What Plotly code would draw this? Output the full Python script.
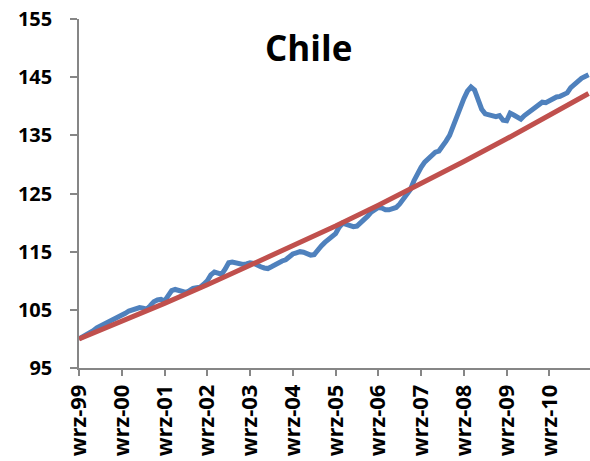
import plotly.graph_objects as go

# Polish month abbreviations; series runs monthly from wrz-99 (Sep 1999)
month_names = ["sty", "lut", "mar", "kwi", "maj", "cze", "lip", "sie", "wrz", "paź", "lis", "gru"]
start_year, start_month = 1999, 9
n_months = 144
categories = []
for i in range(n_months):
    m = (start_month - 1 + i) % 12
    y = start_year + (start_month - 1 + i) // 12
    categories.append(f"{month_names[m]}-{y % 100:02d}")

# Blue series: price index
cpi = [
    100.0, 100.3, 100.7, 101.1, 101.4, 101.9, 102.2, 102.6, 102.9, 103.2, 103.4, 103.6,
    103.9, 104.4, 104.8, 105.0, 105.3, 105.4, 105.3, 105.1, 105.7, 106.4, 106.7, 106.8,
    106.5, 107.6, 108.3, 108.5, 108.3, 108.0, 108.0, 108.3, 108.7, 108.8, 108.9, 109.4,
    110.0, 111.0, 111.5, 111.3, 111.1, 112.0, 113.1, 113.2, 113.0, 112.9, 112.8, 112.9,
    113.1, 113.0, 112.6, 112.4, 112.2, 112.1, 112.4, 112.8, 113.2, 113.4, 113.6, 114.2,
    114.6, 114.8, 115.0, 114.9, 114.6, 114.4, 114.5, 115.4, 116.0, 116.6, 117.1, 117.6,
    118.1, 119.2, 119.9, 119.7, 119.4, 119.3, 119.4, 119.9, 120.5, 121.1, 121.8, 122.3,
    122.6, 122.5, 122.2, 122.2, 122.4, 122.6, 123.2, 124.0, 124.7, 125.7, 127.2, 128.5,
    129.5, 130.4, 131.0, 131.6, 132.1, 132.3, 133.0, 134.0, 135.0, 136.7, 138.4, 139.8,
    141.3, 142.6, 143.3, 142.8, 141.0, 139.5, 138.7, 138.5, 138.3, 138.2, 138.4, 137.6,
    137.5, 138.8, 138.5, 138.1, 137.8, 138.4, 138.9, 139.3, 139.8, 140.2, 140.7, 140.6,
    141.0, 141.4, 141.6, 141.7, 141.9, 142.3, 143.2, 143.8, 144.3, 144.8, 145.1, 145.4,
]

# Red series: target path, read at yearly points
target_idx = [0, 12, 24, 36, 48, 60, 72, 84, 96, 108, 120, 132, 143]
target_vals = [100.0, 103.0, 106.1, 109.3, 112.6, 115.9, 119.4, 123.0, 126.7, 130.5, 134.4, 138.4, 142.2]

y_ticks = [95, 105, 115, 125, 135, 145, 155]
x_tick_idx = list(range(0, 144, 12))

fig = go.Figure()
fig.add_trace(go.Scatter(
    x=categories, y=cpi, mode="lines",
    line=dict(color="#4F81BD", width=5), showlegend=False, hoverinfo="skip"))
fig.add_trace(go.Scatter(
    x=[categories[i] for i in target_idx], y=target_vals, mode="lines",
    line=dict(color="#C0504D", width=5), showlegend=False, hoverinfo="skip"))

fig.update_layout(
    width=590, height=461,
    margin=dict(l=79, r=0, t=19, b=93),
    paper_bgcolor="white", plot_bgcolor="white",
    font=dict(family="Open Sans", color="black"),
    annotations=[dict(
        text="<b>Chile</b>", xref="paper", yref="paper",
        x=(308 - 79) / 511, y=1 - (47 - 19) / 349,
        xanchor="center", yanchor="middle", showarrow=False,
        font=dict(family="Open Sans", size=35, color="black"))],
)
fig.update_xaxes(
    type="category", range=[0, 143.4],
    tickmode="array",
    tickvals=[categories[i] for i in x_tick_idx],
    ticktext=[categories[i] for i in x_tick_idx],
    tickangle=-90,
    ticks="outside", ticklen=6, tickwidth=1.5, tickcolor="#868686",
    showline=True, linecolor="#868686", linewidth=1.5,
    showgrid=False, zeroline=False,
    tickfont=dict(family="Open Sans", size=22, color="black", weight="bold"),
)
fig.update_yaxes(
    range=[95, 155], tickvals=y_ticks,
    ticks="outside", ticklen=7, tickwidth=1.5, tickcolor="#868686",
    showline=True, linecolor="#868686", linewidth=1.5,
    showgrid=False, zeroline=False,
    ticklabelstandoff=14,
    tickfont=dict(family="Open Sans", size=20, color="black", weight="bold"),
)

fig.write_html("out.html")
